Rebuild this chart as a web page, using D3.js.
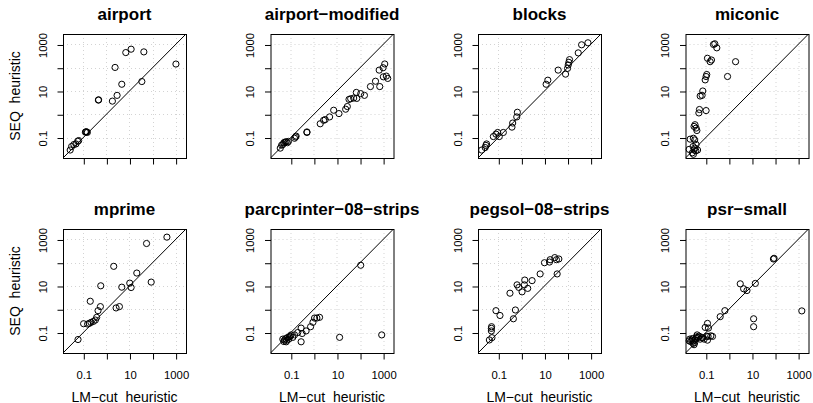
<!DOCTYPE html>
<html>
<head>
<meta charset="utf-8">
<script src="https://cdn.jsdelivr.net/npm/d3@7"></script>
<style>
  html, body { margin: 0; padding: 0; background: #fff; }
  svg { display: block; }
  text { font-family: "Liberation Sans", Arial, Helvetica, sans-serif; }
</style>
</head>
<body>
<svg id="chart" width="813" height="403"></svg>
<script>
// ---------------- DATA ----------------
const panelNames = ["airport", "airport\u2212modified", "blocks", "miconic",
                    "mprime", "parcprinter\u221208\u2212strips", "pegsol\u221208\u2212strips", "psr\u2212small"];

const airportLM  = [0.027,0.031,0.039,0.048,0.057,0.063,0.123,0.13,0.14,0.15,0.45,0.46,1.82,2.91,4.65,2.38,6.93,11.8,42,34.4,1033];
const airportSEQ = [0.029,0.041,0.050,0.053,0.069,0.074,0.17,0.176,0.174,0.166,4.06,4.17,3.67,6.49,19.5,103,449,627,480,25.5,144];

const airportModLM  = [0.035,0.040,0.045,0.050,0.056,0.063,0.071,0.079,0.145,0.16,0.17,0.50,0.50,1.88,2.63,3.09,4.8,7.2,12.2,23.8,28.1,33.3,39.3,53,69,72,107,155,282,468,716,676,1000,1175,1023,1380,1585];
const airportModSEQ = [0.035,0.047,0.050,0.060,0.063,0.066,0.060,0.068,0.093,0.105,0.115,0.165,0.174,0.39,0.55,0.59,0.77,1.49,1.07,1.65,2.15,4.35,4.65,4.97,8.7,4.8,7.7,6.5,15.5,26.3,15.5,79,100,145,40.7,43.7,34.7];

const blocksLM  = [0.019,0.027,0.029,0.031,0.061,0.079,0.094,0.110,0.165,0.39,0.42,0.63,0.67,11.8,14,39.3,82,100,107,114,122,291,407,766];
const blocksSEQ = [0.029,0.037,0.046,0.053,0.110,0.140,0.165,0.110,0.165,0.28,0.42,0.77,1.22,19.5,29.1,79,53,93.5,131,171,223,435,968,1180];

const miconicLM  = [0.019,0.021,0.026,0.031,0.028,0.033,0.037,0.029,0.038,0.029,0.033,0.044,0.031,0.034,0.038,0.041,0.050,0.053,0.103,0.057,0.069,0.074,0.094,0.103,0.110,0.118,0.154,0.176,0.215,0.245,0.30,0.875,1.95];
const miconicSEQ = [0.031,0.085,0.022,0.029,0.041,0.035,0.027,0.019,0.050,0.093,0.079,0.029,0.30,0.355,0.255,0.20,1.14,1.6,1.44,6.07,6.5,10,30,42,51,255,182,215,1000,1070,716,42,182];

const mprimeLM  = [0.059,0.103,0.154,0.182,0.215,0.272,0.333,0.38,0.435,0.55,0.20,0.57,2.08,2.63,3.67,4.65,10.3,11.8,20.8,87.5,55,420];
const mprimeSEQ = [0.050,0.239,0.231,0.247,0.273,0.30,0.344,0.45,0.87,1.3,2.21,10.2,70,1.14,1.3,8.9,13.3,8.6,36,14.7,671,1260];

const parcLM  = [0.045,0.050,0.053,0.059,0.063,0.067,0.074,0.082,0.087,0.094,0.103,0.122,0.145,0.20,0.28,0.31,0.28,0.46,0.72,0.91,1.07,1.35,1.76,13,107,870];
const parcSEQ = [0.052,0.041,0.047,0.055,0.040,0.047,0.062,0.052,0.065,0.070,0.079,0.062,0.079,0.10,0.155,0.091,0.040,0.117,0.178,0.275,0.42,0.42,0.45,0.062,78,0.079];

const pegsolLM  = [0.041,0.053,0.050,0.050,0.051,0.079,0.118,0.45,0.55,0.32,0.65,0.77,1.07,1.4,1.35,1.88,2.91,6.5,10,16.5,17.6,28,33,42,35.5];
const pegsolSEQ = [0.048,0.060,0.117,0.151,0.178,0.87,0.54,0.39,0.93,4.9,11.2,8.7,5.6,18,11.2,7.9,17,33,100,107,135,166,135,145,33];

const psrLM  = [0.019,0.020,0.022,0.025,0.026,0.028,0.029,0.031,0.033,0.034,0.037,0.039,0.042,0.046,0.051,0.057,0.065,0.074,0.085,0.118,0.126,0.165,0.195,0.094,0.118,0.13,0.110,0.42,0.67,3.11,4.35,6.07,14,11.8,11.8,85,91,1445];
const psrSEQ = [0.044,0.052,0.041,0.047,0.055,0.034,0.044,0.030,0.037,0.048,0.057,0.065,0.079,0.061,0.070,0.052,0.061,0.059,0.052,0.047,0.068,0.072,0.068,0.166,0.247,0.155,0.070,0.48,0.87,12.4,7.6,6.4,12.9,0.39,0.178,145,155,0.85];

const panelLM  = [airportLM, airportModLM, blocksLM, miconicLM, mprimeLM, parcLM, pegsolLM, psrLM];
const panelSEQ = [airportSEQ, airportModSEQ, blocksSEQ, miconicSEQ, mprimeSEQ, parcSEQ, pegsolSEQ, psrSEQ];

const tickValues = [0.1, 1, 10, 100, 1000];
const tickLabels = ["0.1", "", "10", "", "1000"];
const xTitle = "LM\u2212cut  heuristic";
const yTitle = "SEQ  heuristic";

// ---------------- LAYOUT ----------------
const colLeft = [63, 270.5, 478, 685.5];
const rowTop  = [34, 229];
const boxW = 123, boxH = 124;
const domain = [Math.pow(10, -1.88), Math.pow(10, 3.45)];
const font = '"Liberation Sans", Arial, Helvetica, sans-serif';

const svg = d3.select("#chart");
svg.append("rect").attr("width", 813).attr("height", 403).attr("fill", "#fff");

const x = d3.scaleLog().domain(domain).range([0, boxW]);
const y = d3.scaleLog().domain(domain).range([boxH, 0]);

panelNames.forEach((name, i) => {
  const row = Math.floor(i / 4), col = i % 4;
  const g = svg.append("g").attr("transform", `translate(${colLeft[col]},${rowTop[row]})`);

  const clipId = "clip" + i;
  g.append("clipPath").attr("id", clipId)
    .append("rect").attr("x", 0).attr("y", 0).attr("width", boxW).attr("height", boxH);

  // grid
  const grid = g.append("g").attr("clip-path", `url(#${clipId})`);
  grid.selectAll("line.gx").data(tickValues).join("line")
    .attr("x1", d => Math.round(x(d)) + 0.5).attr("x2", d => Math.round(x(d)) + 0.5)
    .attr("y1", 0).attr("y2", boxH)
    .attr("stroke", "#d3d3d3").attr("stroke-width", 1).attr("stroke-dasharray", "1,3");
  grid.selectAll("line.gy").data(tickValues).join("line")
    .attr("y1", d => Math.round(y(d)) + 0.5).attr("y2", d => Math.round(y(d)) + 0.5)
    .attr("x1", 0).attr("x2", boxW)
    .attr("stroke", "#d3d3d3").attr("stroke-width", 1).attr("stroke-dasharray", "1,3");

  // diagonal
  g.append("line")
    .attr("clip-path", `url(#${clipId})`)
    .attr("x1", x(domain[0])).attr("y1", y(domain[0]))
    .attr("x2", x(domain[1])).attr("y2", y(domain[1]))
    .attr("stroke", "#000").attr("stroke-width", 1);

  // points
  const pts = panelLM[i].map((v, k) => [v, panelSEQ[i][k]]);
  g.append("g").selectAll("circle").data(pts).join("circle")
    .attr("cx", d => x(d[0])).attr("cy", d => y(d[1])).attr("r", 3.1)
    .attr("fill", "none").attr("stroke", "#000").attr("stroke-width", 1);

  // box
  g.append("rect").attr("x", 0.5).attr("y", 0.5).attr("width", boxW).attr("height", boxH)
    .attr("fill", "none").attr("stroke", "#000").attr("stroke-width", 1);

  // x axis
  const xa = g.append("g").attr("transform", `translate(0.5,${boxH + 0.5})`)
    .call(d3.axisBottom(x).tickValues(tickValues).tickSize(6).tickPadding(0)
      .tickFormat((d, k) => row === 1 ? tickLabels[k] : ""));
  xa.select(".domain").remove();
  xa.selectAll("line").attr("stroke", "#000");
  xa.selectAll("text").attr("fill", "#000").attr("y", 17).attr("dy", "0.71em")
    .style("font-family", font).style("font-size", "11.3px");

  // y axis
  const ya = g.append("g").attr("transform", `translate(0.5,0.5)`)
    .call(d3.axisLeft(y).tickValues(tickValues).tickSize(6).tickPadding(0)
      .tickFormat((d, k) => tickLabels[k]));
  ya.select(".domain").remove();
  ya.selectAll("line").attr("stroke", "#000");
  ya.selectAll("text").attr("fill", "#000").attr("x", null).attr("dy", null)
    .attr("text-anchor", "middle").attr("transform", "translate(-17,0) rotate(-90)")
    .style("font-family", font).style("font-size", "11.3px");

  // title
  g.append("text").attr("x", boxW / 2).attr("y", -14).attr("text-anchor", "middle")
    .style("font-family", font).style("font-size", "17px").style("font-weight", "bold")
    .attr("fill", "#000").text(name);

  if (col === 0) {
    g.append("text").attr("transform", `translate(-43,${boxH / 2}) rotate(-90)`)
      .attr("text-anchor", "middle").style("white-space", "pre")
      .style("font-family", font).style("font-size", "14px").attr("fill", "#000")
      .text(yTitle);
  }
  if (row === 1) {
    g.append("text").attr("x", boxW / 2).attr("y", boxH + 48.5).attr("text-anchor", "middle")
      .style("white-space", "pre")
      .style("font-family", font).style("font-size", "14px").attr("fill", "#000")
      .text(xTitle);
  }
});
</script>
</body>
</html>
